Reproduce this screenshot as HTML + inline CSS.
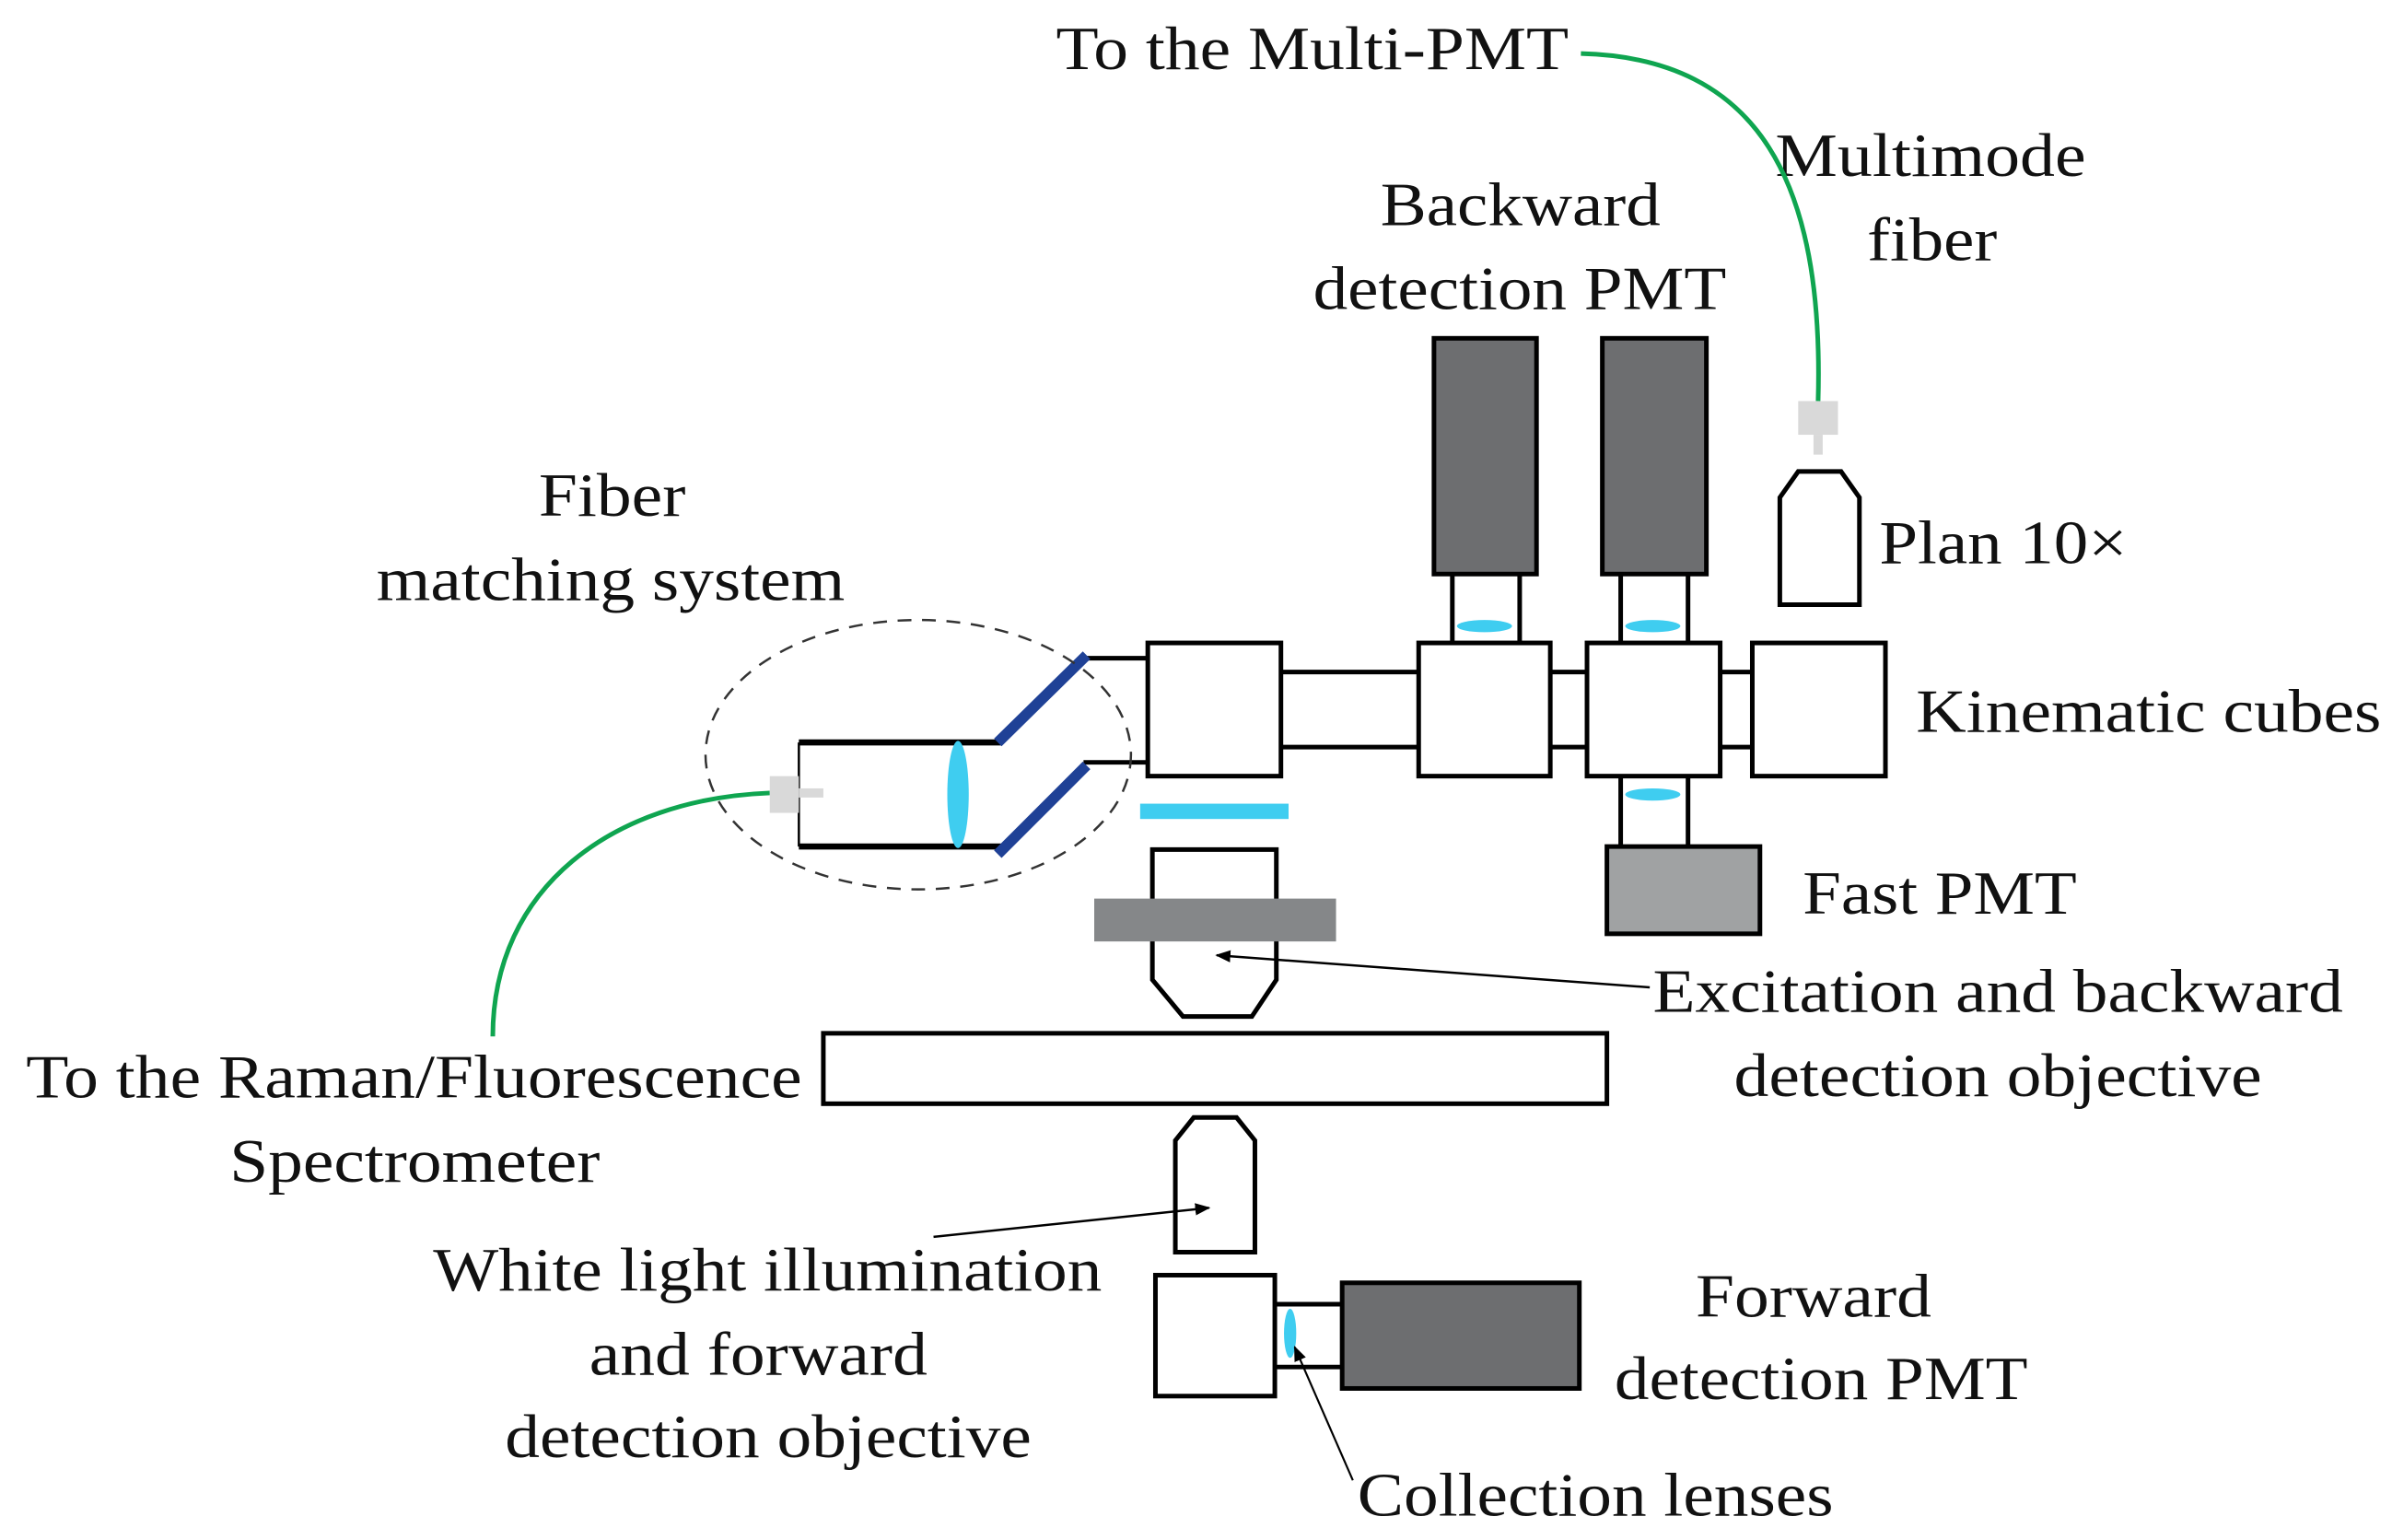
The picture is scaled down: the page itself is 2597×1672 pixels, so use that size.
<!DOCTYPE html>
<html><head><style>html,body{margin:0;padding:0;background:#fff}svg{display:block}.t{font-family:"Liberation Serif","Times New Roman",serif;font-size:40px;fill:#111}</style></head>
<body>
<svg width="2597" height="1672" viewBox="0 0 1563 1006" preserveAspectRatio="none" xmlns="http://www.w3.org/2000/svg">
<defs><marker id="ah" markerWidth="10" markerHeight="8" refX="9" refY="4" orient="auto" markerUnits="userSpaceOnUse"><path d="M0,0 L10,4 L0,8 Z" fill="#000"/></marker></defs>
<g class="t">
<text x="690" y="45" textLength="335" lengthAdjust="spacingAndGlyphs">To the Multi-PMT</text>
<text x="1160" y="115" textLength="203" lengthAdjust="spacingAndGlyphs">Multimode</text>
<text x="1220" y="170" textLength="85" lengthAdjust="spacingAndGlyphs">fiber</text>
<text x="902" y="147" textLength="183" lengthAdjust="spacingAndGlyphs">Backward</text>
<text x="858" y="202" textLength="270" lengthAdjust="spacingAndGlyphs">detection PMT</text>
<text x="352" y="337" textLength="96" lengthAdjust="spacingAndGlyphs">Fiber</text>
<text x="246" y="392" textLength="306" lengthAdjust="spacingAndGlyphs">matching system</text>
<text x="1228" y="368" textLength="162" lengthAdjust="spacingAndGlyphs">Plan 10×</text>
<text x="1252" y="478" textLength="304" lengthAdjust="spacingAndGlyphs">Kinematic cubes</text>
<text x="1178" y="597" textLength="179" lengthAdjust="spacingAndGlyphs">Fast PMT</text>
<text x="1080" y="661" textLength="451" lengthAdjust="spacingAndGlyphs">Excitation and backward</text>
<text x="1133" y="716" textLength="345" lengthAdjust="spacingAndGlyphs">detection objective</text>
<text x="17" y="717" textLength="507" lengthAdjust="spacingAndGlyphs">To the Raman/Fluorescence</text>
<text x="150" y="772" textLength="242" lengthAdjust="spacingAndGlyphs">Spectrometer</text>
<text x="283" y="843" textLength="437" lengthAdjust="spacingAndGlyphs">White light illumination</text>
<text x="385" y="898" textLength="221" lengthAdjust="spacingAndGlyphs">and forward</text>
<text x="330" y="952" textLength="344" lengthAdjust="spacingAndGlyphs">detection objective</text>
<text x="1108" y="860" textLength="154" lengthAdjust="spacingAndGlyphs">Forward</text>
<text x="1055" y="914" textLength="270" lengthAdjust="spacingAndGlyphs">detection PMT</text>
<text x="887" y="990" textLength="311" lengthAdjust="spacingAndGlyphs">Collection lenses</text>
</g>
<path d="M1033,35 C1150,38 1192,120 1188,262" fill="none" stroke="#0fa550" stroke-width="3"/>
<path d="M503,518 C400,522 322,580 322,677" fill="none" stroke="#0fa550" stroke-width="3"/>
<rect x="1175" y="262" width="26" height="22" fill="#d9d9d9"/>
<rect x="1185" y="284" width="6" height="13" fill="#d9d9d9"/>
<path d="M1163,395 L1163,325 L1175,308 L1203,308 L1215,325 L1215,395 Z" fill="#fff" stroke="#000" stroke-width="3"/>
<rect x="937" y="221" width="67" height="154" fill="#6d6e70" stroke="#000" stroke-width="3"/>
<rect x="1047" y="221" width="68" height="154" fill="#6d6e70" stroke="#000" stroke-width="3"/>
<g stroke="#000" stroke-width="3">
<line x1="949" y1="375" x2="949" y2="420"/><line x1="993" y1="375" x2="993" y2="420"/>
<line x1="1059" y1="375" x2="1059" y2="420"/><line x1="1103" y1="375" x2="1103" y2="420"/>
<line x1="1059" y1="507" x2="1059" y2="553"/><line x1="1103" y1="507" x2="1103" y2="553"/>
<line x1="837" y1="439" x2="927" y2="439"/><line x1="837" y1="488" x2="927" y2="488"/>
<line x1="1013" y1="439" x2="1037" y2="439"/><line x1="1013" y1="488" x2="1037" y2="488"/>
<line x1="1124" y1="439" x2="1145" y2="439"/><line x1="1124" y1="488" x2="1145" y2="488"/>
<line x1="708" y1="430" x2="750" y2="430"/><line x1="708" y1="498" x2="750" y2="498"/>
<line x1="522" y1="485" x2="654" y2="485" stroke-width="4"/><line x1="522" y1="553" x2="654" y2="553" stroke-width="4"/>
<line x1="522" y1="485" x2="522" y2="553" stroke-width="1.5"/>
</g>
<ellipse cx="970" cy="409" rx="18" ry="4" fill="#3fcdf0"/>
<ellipse cx="1080" cy="409" rx="18" ry="4" fill="#3fcdf0"/>
<ellipse cx="1080" cy="519" rx="18" ry="4" fill="#3fcdf0"/>
<g fill="#fff" stroke="#000" stroke-width="3">
<rect x="750" y="420" width="87" height="87"/>
<rect x="927" y="420" width="86" height="87"/>
<rect x="1037" y="420" width="87" height="87"/>
<rect x="1145" y="420" width="87" height="87"/>
</g>
<rect x="1050" y="553" width="100" height="57" fill="#a0a2a3" stroke="#000" stroke-width="3"/>
<line x1="652" y1="485" x2="710" y2="428" stroke="#1f4196" stroke-width="7"/>
<line x1="652" y1="558" x2="710" y2="500" stroke="#1f4196" stroke-width="7"/>
<ellipse cx="626" cy="519" rx="7" ry="35" fill="#3fcdf0"/>
<rect x="503" y="507" width="19" height="24" fill="#d9d9d9"/>
<rect x="522" y="515" width="16" height="6" fill="#d9d9d9"/>
<ellipse cx="600" cy="493" rx="139" ry="88" fill="none" stroke="#333" stroke-width="1.5" stroke-dasharray="9,7"/>
<rect x="745" y="525" width="97" height="10" fill="#3fcdf0"/>
<path d="M753,555 L834,555 L834,640 L818,664 L773,664 L753,640 Z" fill="#fff" stroke="#000" stroke-width="3"/>
<rect x="715" y="587" width="158" height="28" fill="#858789"/>
<line x1="1078" y1="645" x2="795" y2="624" stroke="#000" stroke-width="1.5" marker-end="url(#ah)"/>
<rect x="538" y="675" width="512" height="46" fill="#fff" stroke="#000" stroke-width="3"/>
<path d="M768,818 L768,745 L780,730 L808,730 L820,745 L820,818 Z" fill="#fff" stroke="#000" stroke-width="3"/>
<line x1="610" y1="808" x2="790" y2="789" stroke="#000" stroke-width="1.5" marker-end="url(#ah)"/>
<rect x="755" y="833" width="78" height="79" fill="#fff" stroke="#000" stroke-width="3"/>
<line x1="833" y1="852" x2="877" y2="852" stroke="#000" stroke-width="3"/>
<line x1="833" y1="893" x2="877" y2="893" stroke="#000" stroke-width="3"/>
<ellipse cx="843" cy="871" rx="4" ry="16" fill="#3fcdf0"/>
<rect x="877" y="838" width="155" height="69" fill="#6d6e70" stroke="#000" stroke-width="3"/>
<line x1="884" y1="967" x2="846" y2="880" stroke="#000" stroke-width="1.3" marker-end="url(#ah)"/>
</svg>
</body></html>
